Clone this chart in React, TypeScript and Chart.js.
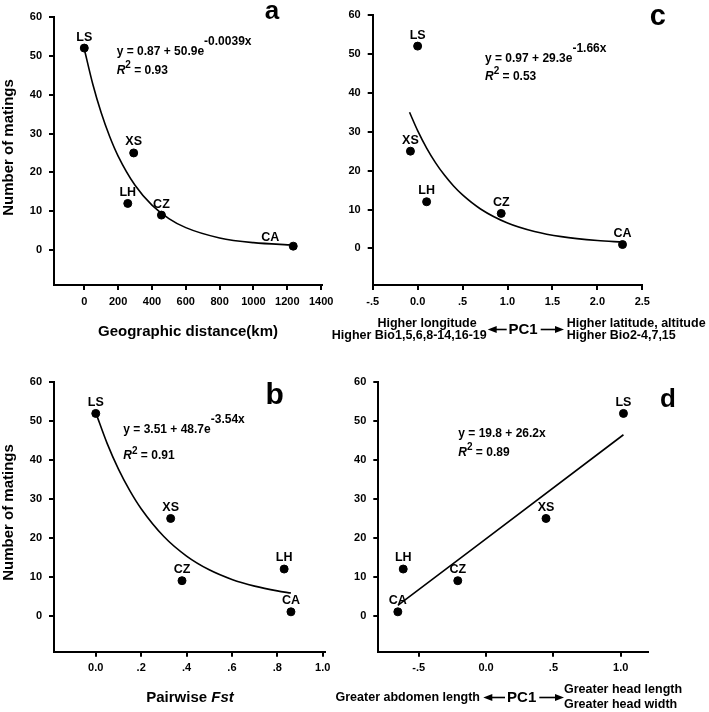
import React, { useEffect, useRef } from 'react';
import { Chart, registerables } from 'chart.js';

Chart.register(...registerables);

// ---------------- data ----------------
const sites = ['LS', 'XS', 'LH', 'CZ', 'CA'];
const matings = [52, 25, 12, 9, 1];

const geoDistance = [0, 292, 257, 456, 1235];
const pairwiseFst = [0.0, 0.33, 0.83, 0.38, 0.86];
const envPC1 = [0.0, -0.08, 0.1, 0.93, 2.28];
const morphPC1 = [1.02, 0.445, -0.615, -0.21, -0.655];

// fitted curves
const fitGeoX = [0, 50, 100, 150, 200, 300, 400, 500, 600, 800, 1000, 1235];
const fitGeoY = [51.77, 42.75, 35.33, 29.23, 24.2, 16.67, 11.57, 8.11, 5.77, 3.12, 1.9, 1.28];
const fitFstX = [0, 0.05, 0.1, 0.15, 0.2, 0.3, 0.4, 0.5, 0.6, 0.7, 0.8, 0.86];
const fitFstY = [52.21, 44.31, 37.69, 32.15, 27.5, 20.35, 15.33, 11.8, 9.33, 7.6, 6.38, 5.83];
const fitEnvX = [-0.09, 0, 0.1, 0.2, 0.3, 0.4, 0.5, 0.7, 1.0, 1.3, 1.6, 2.0, 2.28];
const fitEnvY = [34.99, 30.27, 25.79, 21.99, 18.78, 16.05, 13.75, 10.14, 6.54, 4.36, 3.03, 2.03, 1.64];
const fitMorphX = [-0.655, 1.02];
const fitMorphY = [2.64, 46.52];

// ticks
const yTicks = [0, 10, 20, 30, 40, 50, 60];
const yTickLabels = ['0', '10', '20', '30', '40', '50', '60'];
const geoTicks = [0, 200, 400, 600, 800, 1000, 1200, 1400];
const geoTickLabels = ['0', '200', '400', '600', '800', '1000', '1200', '1400'];
const fstTicks = [0, 0.2, 0.4, 0.6, 0.8, 1.0];
const fstTickLabels = ['0.0', '.2', '.4', '.6', '.8', '1.0'];
const envTicks = [-0.5, 0, 0.5, 1.0, 1.5, 2.0, 2.5];
const envTickLabels = ['-.5', '0.0', '.5', '1.0', '1.5', '2.0', '2.5'];
const morphTicks = [-0.5, 0, 0.5, 1.0];
const morphTickLabels = ['-.5', '0.0', '.5', '1.0'];

// texts
const yTitle = 'Number of matings';
const geoTitle = 'Geographic distance(km)';
const fstTitleA = 'Pairwise ';
const fstTitleB = 'Fst';
const eqA = ['y = 0.87 + 50.9e', '-0.0039x', '0.93'];
const eqB = ['y = 3.51 + 48.7e', '-3.54x', '0.91'];
const eqC = ['y = 0.97 + 29.3e', '-1.66x', '0.53'];
const eqD = ['y = 19.8 + 26.2x', '', '0.89'];
const envLeft = ['Higher longitude', 'Higher Bio1,5,6,8-14,16-19'];
const envRight = ['Higher latitude, altitude', 'Higher Bio2-4,7,15'];
const morphLeft = ['Greater abdomen length'];
const morphRight = ['Greater head length', 'Greater head width'];
const pcLabel = 'PC1';

// ---------------- styling helpers ----------------
const FAM = '"Liberation Sans", Arial, Helvetica, sans-serif';
const f = (size: number, style = '') => `${style} bold ${size}px ${FAM}`.trim();

function rich(ctx: CanvasRenderingContext2D, x: number, y: number, parts: [string, string, number][]) {
  let cx = x;
  ctx.textAlign = 'left';
  ctx.textBaseline = 'middle';
  for (const [t, font, dy] of parts) {
    ctx.font = font;
    ctx.fillText(t, cx, y + dy);
    cx += ctx.measureText(t).width;
  }
}

function equation(ctx: CanvasRenderingContext2D, x: number, y: number, y2: number, eq: string[]) {
  rich(ctx, x, y, [[eq[0], f(12), 0], [eq[1], f(12), -10]]);
  rich(ctx, x, y2, [['R', f(12, 'italic'), 0], ['2', f(10), -5], [' = ' + eq[2], f(12), 0]]);
}

function arrow(ctx: CanvasRenderingContext2D, x1: number, x2: number, y: number) {
  const dir = Math.sign(x2 - x1);
  ctx.strokeStyle = '#000';
  ctx.lineWidth = 1.6;
  ctx.beginPath();
  ctx.moveTo(x1, y);
  ctx.lineTo(x2 - dir * 6, y);
  ctx.stroke();
  ctx.beginPath();
  ctx.moveTo(x2, y);
  ctx.lineTo(x2 - dir * 9, y - 3.5);
  ctx.lineTo(x2 - dir * 9, y + 3.5);
  ctx.closePath();
  ctx.fill();
}

function letter(ctx: CanvasRenderingContext2D, t: string, x: number, y: number, size: number) {
  ctx.font = `bold ${size}px ${FAM}`;
  ctx.textAlign = 'center';
  ctx.textBaseline = 'alphabetic';
  ctx.fillText(t, x, y);
}

function yTitleDraw(ctx: CanvasRenderingContext2D, x: number, y: number) {
  ctx.save();
  ctx.translate(x, y);
  ctx.rotate(-Math.PI / 2);
  ctx.font = f(15);
  ctx.textAlign = 'center';
  ctx.textBaseline = 'middle';
  ctx.fillText(yTitle, 0, 0);
  ctx.restore();
}

type Panel = {
  key: string;
  left: number; top: number; w: number; h: number;
  area: { l: number; r: number; t: number; b: number };
  xs: number[];
  xMin: number; xMax: number; yMin: number;
  xTicks: number[]; xTickLabels: string[];
  fitX: number[]; fitY: number[];
  shift: Record<string, [number, number]>;
  draw: (ctx: CanvasRenderingContext2D) => void;
};

const panels: Panel[] = [
  {
    key: 'a', left: 0, top: 0, w: 354, h: 356,
    area: { l: 54, r: 322, t: 17, b: 285 },
    xs: geoDistance, xMin: -179, xMax: 1405, yMin: -9,
    xTicks: geoTicks, xTickLabels: geoTickLabels,
    fitX: fitGeoX, fitY: fitGeoY,
    shift: { CA: [-23, -9] },
    draw: (ctx) => {
      equation(ctx, 116.7, 51.7, 70.7, eqA);
      letter(ctx, 'a', 272, 18.5, 26);
      yTitleDraw(ctx, 8.7, 147.5);
      ctx.font = f(15);
      ctx.textAlign = 'center';
      ctx.textBaseline = 'middle';
      ctx.fillText(geoTitle, 188, 331.7);
    },
  },
  {
    key: 'b', left: 0, top: 356, w: 354, h: 356,
    area: { l: 54, r: 325, t: 26.3, b: 295.7 },
    xs: pairwiseFst, xMin: -0.184, xMax: 1.01, yMin: -9.25,
    xTicks: fstTicks, xTickLabels: fstTickLabels,
    fitX: fitFstX, fitY: fitFstY,
    shift: {},
    draw: (ctx) => {
      equation(ctx, 123.3, 74, 100, eqB);
      letter(ctx, 'b', 274.7, 48, 30);
      yTitleDraw(ctx, 8.7, 156.5);
      ctx.font = f(15);
      const w1 = ctx.measureText(fstTitleA).width;
      ctx.font = f(15, 'italic');
      const w2 = ctx.measureText(fstTitleB).width;
      rich(ctx, 190 - (w1 + w2) / 2, 341.7, [[fstTitleA, f(15), 0], [fstTitleB, f(15, 'italic'), 0]]);
    },
  },
  {
    key: 'c', left: 300, top: 0, w: 409, h: 356,
    area: { l: 72.7, r: 342.3, t: 15, b: 285 },
    xs: envPC1, xMin: -0.5, xMax: 2.5, yMin: -9.4,
    xTicks: envTicks, xTickLabels: envTickLabels,
    fitX: fitEnvX, fitY: fitEnvY,
    shift: {},
    draw: (ctx) => {
      equation(ctx, 185, 58.3, 76.7, eqC);
      letter(ctx, 'c', 357.7, 25, 29);
      ctx.font = f(12.5);
      ctx.textBaseline = 'middle';
      ctx.textAlign = 'right';
      ctx.fillText(envLeft[0], 176.7, 323.5);
      ctx.fillText(envLeft[1], 186.7, 335.5);
      ctx.textAlign = 'left';
      ctx.fillText(envRight[0], 266.7, 323.5);
      ctx.fillText(envRight[1], 266.7, 335.5);
      ctx.font = f(15);
      ctx.textAlign = 'center';
      ctx.fillText(pcLabel, 223, 329.5);
      arrow(ctx, 206.7, 187.7, 329.5);
      arrow(ctx, 240.7, 264, 329.5);
    },
  },
  {
    key: 'd', left: 300, top: 356, w: 409, h: 356,
    area: { l: 78.3, r: 347.7, t: 26.3, b: 295.7 },
    xs: morphPC1, xMin: -0.8, xMax: 1.2, yMin: -9.25,
    xTicks: morphTicks, xTickLabels: morphTickLabels,
    fitX: fitMorphX, fitY: fitMorphY,
    shift: {},
    draw: (ctx) => {
      equation(ctx, 158.3, 77.3, 96.7, eqD);
      letter(ctx, 'd', 368, 50.5, 26);
      ctx.font = f(12.5);
      ctx.textBaseline = 'middle';
      ctx.textAlign = 'right';
      ctx.fillText(morphLeft[0], 180, 341.5);
      ctx.textAlign = 'left';
      ctx.fillText(morphRight[0], 264, 334);
      ctx.fillText(morphRight[1], 264, 349);
      ctx.font = f(15);
      ctx.textAlign = 'center';
      ctx.fillText(pcLabel, 221.7, 341.5);
      arrow(ctx, 205, 183.3, 341.5);
      arrow(ctx, 239.3, 264, 341.5);
    },
  },
];

function PanelChart({ p }: { p: Panel }) {
  const ref = useRef<HTMLCanvasElement>(null);
  useEffect(() => {
    if (!ref.current) return;
    const tickFont = { family: FAM, size: 11, weight: 'bold' as const };
    const overlay = {
      id: 'overlay' + p.key,
      afterDraw(chart: any) {
        const ctx = chart.ctx as CanvasRenderingContext2D;
        ctx.save();
        ctx.fillStyle = '#000';
        const meta = chart.getDatasetMeta(1);
        ctx.font = f(12.5);
        ctx.textAlign = 'center';
        ctx.textBaseline = 'middle';
        meta.data.forEach((pt: any, i: number) => {
          const s = p.shift[sites[i]] || [0, -11];
          ctx.fillText(sites[i], pt.x + s[0], pt.y + s[1]);
        });
        p.draw(ctx);
        ctx.restore();
      },
    };
    const chart = new Chart(ref.current, {
      type: 'scatter',
      data: {
        datasets: [
          {
            data: p.fitX.map((x, i) => ({ x, y: p.fitY[i] })),
            showLine: true,
            borderColor: '#000',
            borderWidth: 1.6,
            pointRadius: 0,
            cubicInterpolationMode: 'monotone',
            fill: false,
            clip: false,
          } as any,
          {
            data: p.xs.map((x, i) => ({ x, y: matings[i] })),
            backgroundColor: '#000',
            borderColor: '#000',
            borderWidth: 1,
            pointRadius: 4,
            clip: false,
          } as any,
        ],
      },
      options: {
        responsive: false,
        animation: false,
        events: [],
        layout: {
          padding: { left: 0, right: p.w - p.area.r, top: p.area.t, bottom: p.h - p.area.b - 30 },
        },
        plugins: { legend: { display: false }, tooltip: { enabled: false } },
        scales: {
          x: {
            type: 'linear',
            min: p.xMin,
            max: p.xMax,
            afterBuildTicks: (s: any) => { s.ticks = p.xTicks.map((v) => ({ value: v })); },
            afterFit: (s: any) => { s.height = 30; },
            ticks: {
              callback: (_v: any, i: number) => p.xTickLabels[i],
              font: tickFont, color: '#000', padding: 5, maxRotation: 0, autoSkip: false,
            },
            grid: { drawOnChartArea: false, drawTicks: true, tickLength: 5, color: '#000', lineWidth: 2 },
            border: { display: true, color: '#000', width: 2 },
          },
          y: {
            type: 'linear',
            min: p.yMin,
            max: 60,
            afterBuildTicks: (s: any) => { s.ticks = yTicks.map((v) => ({ value: v })); },
            afterFit: (s: any) => { s.width = p.area.l; },
            ticks: {
              callback: (_v: any, i: number) => yTickLabels[i],
              font: tickFont, color: '#000', padding: 7, autoSkip: false,
            },
            grid: { drawOnChartArea: false, drawTicks: true, tickLength: 5, color: '#000', lineWidth: 2 },
            border: { display: true, color: '#000', width: 2 },
          },
        },
      } as any,
      plugins: [overlay],
    });
    return () => chart.destroy();
  }, [p]);
  return (
    <canvas
      ref={ref}
      width={p.w}
      height={p.h}
      style={{ position: 'absolute', left: p.left, top: p.top, width: p.w, height: p.h }}
    />
  );
}

export default function App() {
  return (
    <div style={{ position: 'fixed', left: 0, top: 0, width: 709, height: 712, background: '#fff', overflow: 'hidden' }}>
      {panels.map((p) => (
        <PanelChart key={p.key} p={p} />
      ))}
    </div>
  );
}
